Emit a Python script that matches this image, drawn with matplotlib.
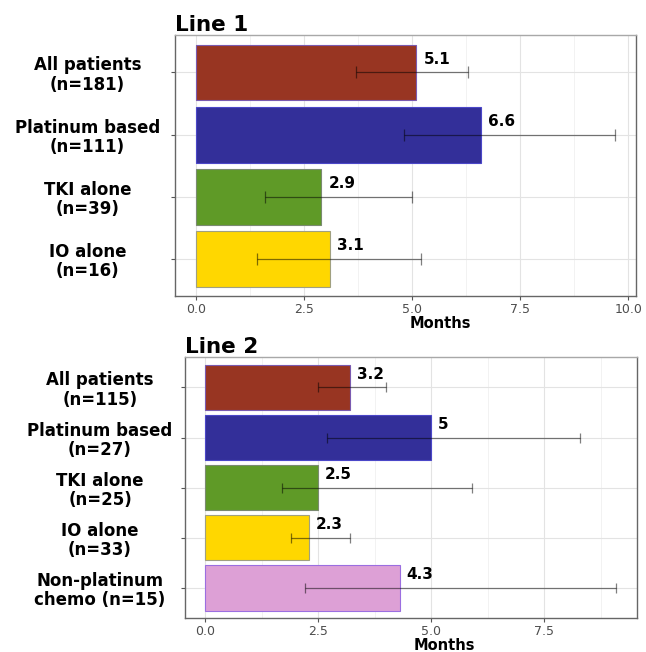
import numpy as np
import matplotlib
matplotlib.use('Agg')
import matplotlib.pyplot as plt
from matplotlib.ticker import MultipleLocator

plt.rcParams['font.family'] = ['DejaVu Sans']

# Line 1 data
line1_groups = ['All patients\n(n=181)', 'Platinum based\n(n=111)', 'TKI alone\n(n=39)', 'IO alone\n(n=16)']
line1_median = [5.1, 6.6, 2.9, 3.1]
line1_lower = [3.7, 4.8, 1.6, 1.4]
line1_upper = [6.3, 9.7, 5.0, 5.2]

# Line 2 data
line2_groups = ['All patients\n(n=115)', 'Platinum based\n(n=27)', 'TKI alone\n(n=25)', 'IO alone\n(n=33)',
                'Non-platinum\nchemo (n=15)']
line2_median = [3.2, 5.0, 2.5, 2.3, 4.3]
line2_lower = [2.5, 2.7, 1.7, 1.9, 2.2]
line2_upper = [4.0, 8.3, 5.9, 3.2, 9.1]

bar_colors = ['#983522', '#332f99', '#5f9a27', '#ffd700', '#dda0d6']
edge_colors = ['#7a5ab0', '#4b47c8', '#7a8a70', '#a0a080', '#9b6ee0']


def draw_panel(ax, title, groups, median, lower, upper, capsize, ypad):
    n = len(groups)
    y_pos = np.arange(n)
    ax.barh(y_pos, median, height=0.9, color=bar_colors[:n], edgecolor=edge_colors[:n],
            linewidth=0.8, zorder=2)
    med = np.array(median)
    err = [med - np.array(lower), np.array(upper) - med]
    ax.errorbar(median, y_pos, xerr=err, fmt='none', ecolor='black', alpha=0.5, elinewidth=0.9,
                capsize=capsize, capthick=0.9, zorder=3)
    for yy, val in zip(y_pos, median):
        lab = ('%g' % val) if val != int(val) else '%d' % val
        ax.annotate(lab, (val, yy), xytext=(5, 9.5), textcoords='offset points',
                    ha='left', va='center', fontsize=11, fontweight='bold', zorder=4)

    # ggplot-style expansion of the scales
    x_hi = max(upper)
    ax.set_xlim(-0.05 * x_hi, 1.05 * x_hi)
    ax.set_ylim(n - 1 + 0.6, -0.6)

    ax.set_yticks(y_pos)
    ax.set_yticklabels(groups, fontsize=12, fontweight='bold', ha='center', linespacing=1.1)
    ax.tick_params(axis='y', pad=ypad, length=3, color='#555555')
    ax.xaxis.set_major_locator(MultipleLocator(2.5))
    ax.xaxis.set_minor_locator(MultipleLocator(1.25))
    ax.set_xticklabels(['%.1f' % t for t in ax.get_xticks()])
    ax.tick_params(axis='x', labelsize=9, labelcolor='#4d4d4d', length=3, color='#555555', pad=2)
    ax.tick_params(axis='x', which='minor', length=0)

    ax.grid(True, which='major', color='#e3e3e3', linewidth=0.8, zorder=0)
    ax.grid(True, which='minor', axis='x', color='#f0f0f0', linewidth=0.6, zorder=0)
    ax.set_axisbelow(True)
    for name, side in ax.spines.items():
        side.set_color('#a8a8a8' if name == 'top' else '#666666')
        side.set_linewidth(1.0)

    ax.set_xlabel('Months', fontsize=10.5, fontweight='bold')
    ax.xaxis.set_label_coords(0.575, -0.075)
    ax.set_title(title, loc='left', fontsize=15.5, fontweight='bold', pad=2.5)


fig = plt.figure(figsize=(6.46, 6.52), dpi=100)
ax1 = fig.add_axes([0.271, 0.546, 0.714, 0.400])
ax2 = fig.add_axes([0.286, 0.052, 0.700, 0.400])

draw_panel(ax1, 'Line 1', line1_groups, line1_median, line1_lower, line1_upper, 4.5, 60)
draw_panel(ax2, 'Line 2', line2_groups, line2_median, line2_lower, line2_upper, 3.8, 58)

fig.savefig('out.png', dpi=100)
